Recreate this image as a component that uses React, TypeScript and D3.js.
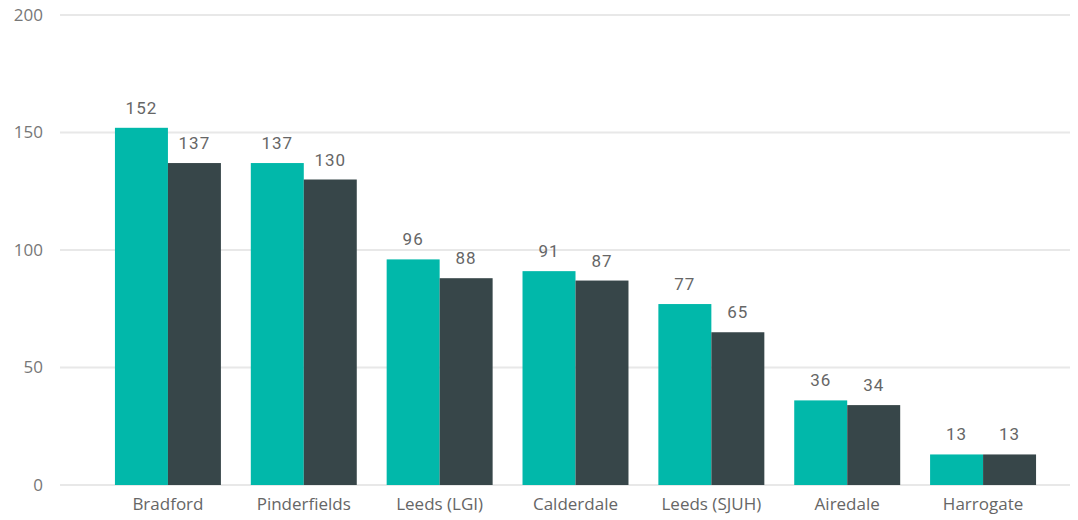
import React from "react";
import * as d3 from "d3";

const categories = ["Bradford", "Pinderfields", "Leeds (LGI)", "Calderdale", "Leeds (SJUH)", "Airedale", "Harrogate"];
const seriesA = [152, 137, 96, 91, 77, 36, 13];
const seriesB = [137, 130, 88, 87, 65, 34, 13];
const yTicks = [0, 50, 100, 150, 200];

const W = 1078, H = 520;
const colors = ["#01B8AA", "#374649"];

export default function App() {
  const y = d3.scaleLinear().domain([0, 200]).range([485, 15]);
  const x = d3.scaleBand().domain(categories).range([100, 1051]).paddingInner(0.22).paddingOuter(0.11);
  const inner = d3.scaleBand().domain(["a", "b"]).range([0, x.bandwidth()]);
  const series = [seriesA, seriesB];
  const labelFont = "'Segoe UI', 'Open Sans', 'Noto Sans', sans-serif";
  return (
    <svg width={W} height={H} style={{ position: "absolute", left: 0, top: 0 }}>
      {yTicks.map((t) => (
        <g key={t}>
          <line x1={60} x2={1070} y1={y(t)} y2={y(t)} stroke="#e8e8e8" strokeWidth={2} />
          <text x={43} y={y(t)} dy="0.35em" textAnchor="end" fill="#777" fontSize={17} fontFamily={labelFont}>{t}</text>
        </g>
      ))}
      {categories.map((c, i) => (
        <g key={c} transform={`translate(${x(c)},0)`}>
          {series.map((s, j) => {
            const bx = inner(j === 0 ? "a" : "b")!;
            return (
              <g key={j}>
                <rect x={bx} y={y(s[i])} width={inner.bandwidth()} height={y(0) - y(s[i])} fill={colors[j]} />
                <text x={bx + inner.bandwidth() / 2} y={y(s[i]) - 14} textAnchor="middle" fill="#666" fontSize={17} fontFamily="'Roboto', sans-serif" letterSpacing="1">{s[i]}</text>
              </g>
            );
          })}
          <text x={x.bandwidth() / 2} y={510} textAnchor="middle" fill="#666" fontSize={17} fontFamily={labelFont}>{c}</text>
        </g>
      ))}
    </svg>
  );
}
